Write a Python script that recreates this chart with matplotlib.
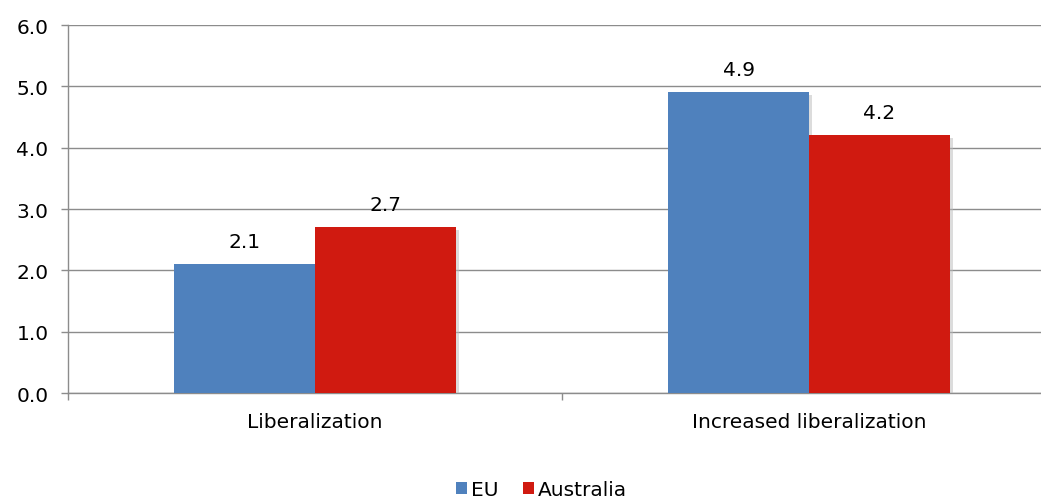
import matplotlib.pyplot as plt
import matplotlib.patheffects as pe
from matplotlib.patches import Patch
import numpy as np

categories = ["Liberalization", "Increased liberalization"]
eu = [2.1, 4.9]
australia = [2.7, 4.2]
series_names = ["EU", "Australia"]
colors = ["#4F81BD", "#D01A10"]

plt.rcParams["font.family"] = ["DejaVu Sans"]
plt.rcParams["font.size"] = 14.5

fig = plt.figure(figsize=(10.41, 5.02), dpi=100)
ax = fig.add_axes([0.0653, 0.2151, 0.9491, 0.7331])

x = np.arange(len(categories))
width = 0.285
shadow = [pe.SimplePatchShadow(offset=(2, -2), shadow_rgbFace="#bbbbbb", alpha=0.5), pe.Normal()]

bars_eu = ax.bar(x - width / 2, eu, width, color=colors[0], path_effects=shadow, zorder=3)
bars_au = ax.bar(x + width / 2, australia, width, color=colors[1], path_effects=shadow, zorder=3)

for bars in (bars_eu, bars_au):
    for b in bars:
        ax.annotate(f"{b.get_height():.1f}", (b.get_x() + b.get_width() / 2, b.get_height()),
                    xytext=(0, 16.5), textcoords="offset points", ha="center", va="center",
                    zorder=4)

ax.set_xlim(-0.5, 1.5)
ax.set_ylim(0, 6)
ax.set_yticks(np.arange(0, 7, 1))
ax.set_yticklabels([f"{v:.1f}" for v in np.arange(0, 7, 1)])
ax.set_xticks(x)
ax.set_xticklabels(categories)
ax.set_xticks([-0.5, 0.5, 1.5], minor=True)

grid_c = "#8c8c8c"
ax.yaxis.grid(True, color=grid_c, linewidth=1.0, zorder=0)
ax.set_axisbelow(True)
ax.tick_params(axis="y", length=5, width=1.0, color=grid_c, pad=9)
ax.tick_params(axis="x", which="major", length=0, pad=13.5)
ax.tick_params(axis="x", which="minor", length=5, width=1.0, color=grid_c)
for s in ["top", "right"]:
    ax.spines[s].set_visible(False)
for s in ["left", "bottom"]:
    ax.spines[s].set_color(grid_c)
    ax.spines[s].set_linewidth(1.0)

handles = [Patch(facecolor=c, label=n) for c, n in zip(colors, series_names)]
fig.legend(handles=handles, loc="center", bbox_to_anchor=(0.52, 0.022), ncol=2,
           frameon=False, handlelength=0.55, handleheight=0.55, handletextpad=0.2,
           columnspacing=1.2)

fig.savefig("out.png", dpi=100)
